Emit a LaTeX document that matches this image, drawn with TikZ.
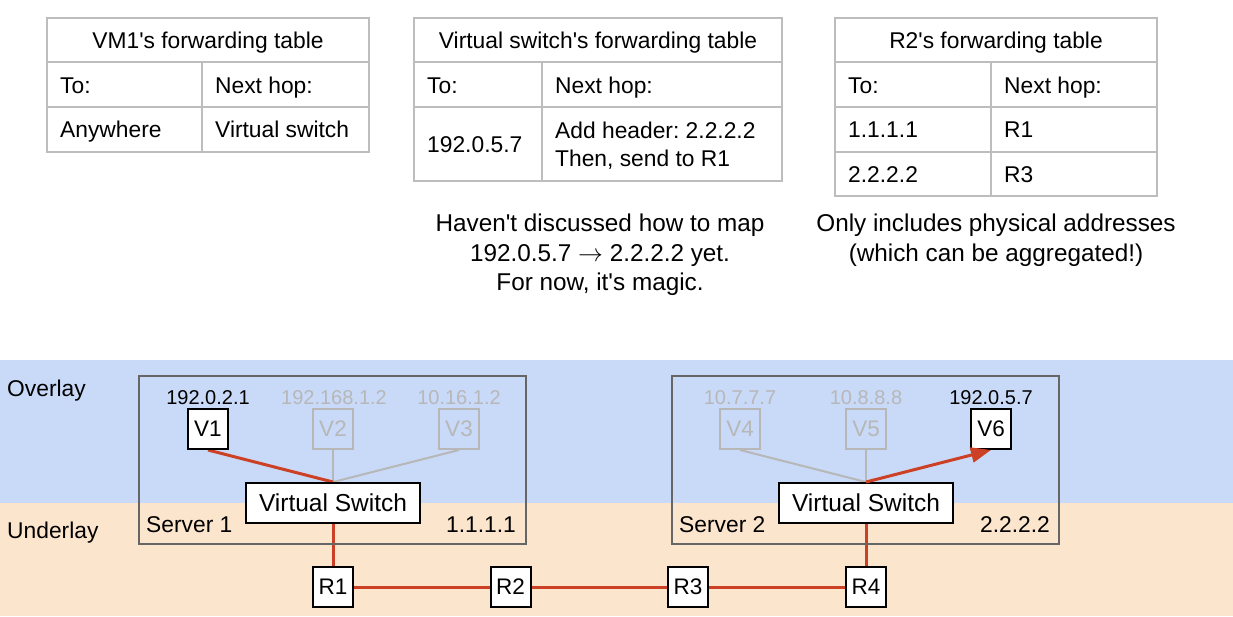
\documentclass[tikz,border=0pt]{standalone}
\usepackage{fontspec}
\setmainfont{Liberation Sans}[Ligatures=TeXOff]
\usetikzlibrary{arrows.meta}
\definecolor{ovl}{HTML}{C9DAF8}
\definecolor{udl}{HTML}{FCE5CD}
\definecolor{redl}{HTML}{CC4125}
\definecolor{lgray}{HTML}{B7B7B7}
\definecolor{tblgray}{HTML}{BDBDBD}
\definecolor{sgray}{HTML}{666666}
\pgfdeclarelayer{back}
\pgfdeclarelayer{mid}
\pgfsetlayers{back,mid,main}
\frenchspacing
\begin{document}
\begin{tikzpicture}[x=1pt,y=-1pt,
  cell/.style={inner sep=0pt, text height=16.3pt, text depth=0pt, font=\fontsize{22.8}{27}\selectfont},
  note/.style={inner sep=0pt, text height=17.4pt, text depth=0pt, font=\fontsize{24.3}{29}\selectfont},
  ip/.style={inner sep=0pt, text height=14.3pt, text depth=0pt, font=\fontsize{20}{24}\selectfont},
  tline/.style={draw=tblgray, line width=1.3pt},
  vm/.style={draw=black, line width=2pt, fill=white, minimum width=40pt, minimum height=40pt, inner sep=0pt, font=\fontsize{22.5}{26}\selectfont},
  vmoff/.style={vm, draw=lgray, fill=none, text=lgray},
  vsbox/.style={draw=black, line width=2pt, fill=white, minimum width=174pt, minimum height=40pt, inner sep=0pt, font=\fontsize{24.5}{28}\selectfont},
  server/.style={draw=sgray, line width=2pt, minimum width=387pt, minimum height=168pt, inner sep=0pt},
  redw/.style={draw=redl, line width=3pt},
  grayw/.style={draw=lgray, line width=2pt}
]
\useasboundingbox (0,0) rectangle (1233,616);
\begin{pgfonlayer}{back}
\fill[white] (0,0) rectangle (1233,360);
\fill[ovl] (0,360) rectangle (1233,503);
\fill[udl] (0,503) rectangle (1233,616);
\end{pgfonlayer}

% ---------- Table 1 ----------
\draw[tline] (47,18) rectangle (369,152);
\draw[tline] (47,62) -- (369,62);
\draw[tline] (47,107) -- (369,107);
\draw[tline] (202,62) -- (202,152);
\node[cell] (t1h) at (208,40) {VM1's forwarding table};
\node[cell, anchor=west] (t1a) at (60,85) {To:};
\node[cell, anchor=west] (t1b) at (215,85) {Next hop:};
\node[cell, anchor=west] (t1c) at (60,129) {Anywhere};
\node[cell, anchor=west] (t1d) at (215,129) {Virtual switch};

% ---------- Table 2 ----------
\draw[tline] (414,18) rectangle (782,181);
\draw[tline] (414,62) -- (782,62);
\draw[tline] (414,107) -- (782,107);
\draw[tline] (542,62) -- (542,181);
\node[cell] (t2h) at (598,40) {Virtual switch's forwarding table};
\node[cell, anchor=west] (t2a) at (427,85) {To:};
\node[cell, anchor=west] (t2b) at (555,85) {Next hop:};
\node[cell, anchor=west] (t2c) at (427,144) {192.0.5.7};
\node[cell, anchor=west] (t2d) at (555,130) {Add header: 2.2.2.2};
\node[cell, anchor=west] (t2e) at (555,158) {Then, send to R1};
\node[note] (n1a) at (600,223) {Haven't discussed how to map};
\node[note] (n1b) at (600,253) {192.0.5.7 $\rightarrow$ 2.2.2.2 yet.};
\node[note] (n1c) at (600,282) {For now, it's magic.};

% ---------- Table 3 ----------
\draw[tline] (835,18) rectangle (1157,196);
\draw[tline] (835,62) -- (1157,62);
\draw[tline] (835,107) -- (1157,107);
\draw[tline] (835,152) -- (1157,152);
\draw[tline] (991,62) -- (991,196);
\node[cell] (t3h) at (996,40) {R2's forwarding table};
\node[cell, anchor=west] (t3a) at (848,85) {To:};
\node[cell, anchor=west] (t3b) at (1004,85) {Next hop:};
\node[cell, anchor=west] (t3c) at (848,129) {1.1.1.1};
\node[cell, anchor=west] (t3d) at (1004,129) {R1};
\node[cell, anchor=west] (t3e) at (848,174) {2.2.2.2};
\node[cell, anchor=west] (t3f) at (1004,174) {R3};
\node[note] (n2a) at (996,223) {Only includes physical addresses};
\node[note] (n2b) at (996,253) {(which can be aggregated!)};

% ---------- Layer labels ----------
\node[cell, anchor=west] (ovlab) at (7,388) {Overlay};
\node[cell, anchor=west] (udlab) at (7,530) {Underlay};

% ---------- Servers ----------
\node[server] (s1) at (332.5,460) {};
\node[server] (s2) at (865.5,460) {};
\node[cell, anchor=west] (s1n) at (146,524) {Server 1};
\node[cell, anchor=east] (s1a) at (516,524) {1.1.1.1};
\node[cell, anchor=west] (s2n) at (679,524) {Server 2};
\node[cell, anchor=east] (s2a) at (1050,524) {2.2.2.2};

% ---------- VMs ----------
\node[ip] (ip1) at (208,397) {192.0.2.1};
\node[ip, text=lgray] (ip2) at (334,397) {192.168.1.2};
\node[ip, text=lgray] (ip3) at (459,397) {10.16.1.2};
\node[ip, text=lgray] (ip4) at (740,397) {10.7.7.7};
\node[ip, text=lgray] (ip5) at (866,397) {10.8.8.8};
\node[ip] (ip6) at (991,397) {192.0.5.7};
\node[vm] (v1) at (208,429) {V1};
\node[vmoff] (v2) at (333,429) {V2};
\node[vmoff] (v3) at (459,429) {V3};
\node[vmoff] (v4) at (740,429) {V4};
\node[vmoff] (v5) at (866,429) {V5};
\node[vm] (v6) at (991,429) {V6};

\node[vsbox] (vs1) at (333,503) {Virtual Switch};
\node[vsbox] (vs2) at (866,503) {Virtual Switch};

\node[vm] (r1) at (333,587) {R1};
\node[vm] (r2) at (510.5,587) {R2};
\node[vm] (r3) at (688,587) {R3};
\node[vm] (r4) at (866,587) {R4};

\begin{pgfonlayer}{mid}
\draw[grayw] (v2.south) -- (vs1.north);
\draw[grayw] (v3.south) -- (vs1.north);
\draw[redw] (v1.south) -- (vs1.north);
\draw[grayw] (v4.south) -- (vs2.north);
\draw[grayw] (v5.south) -- (vs2.north);
\draw[redw] (vs1.south) -- (r1.north);
\draw[redw] (r1) -- (r2);
\draw[redw] (r2) -- (r3);
\draw[redw] (r3) -- (r4);
\draw[redw] (vs2.south) -- (r4.north);
\end{pgfonlayer}
\draw[redw, -{Triangle[length=20pt,width=15pt]}] (vs2.north) -- (v6.south);
\end{tikzpicture}
\end{document}
